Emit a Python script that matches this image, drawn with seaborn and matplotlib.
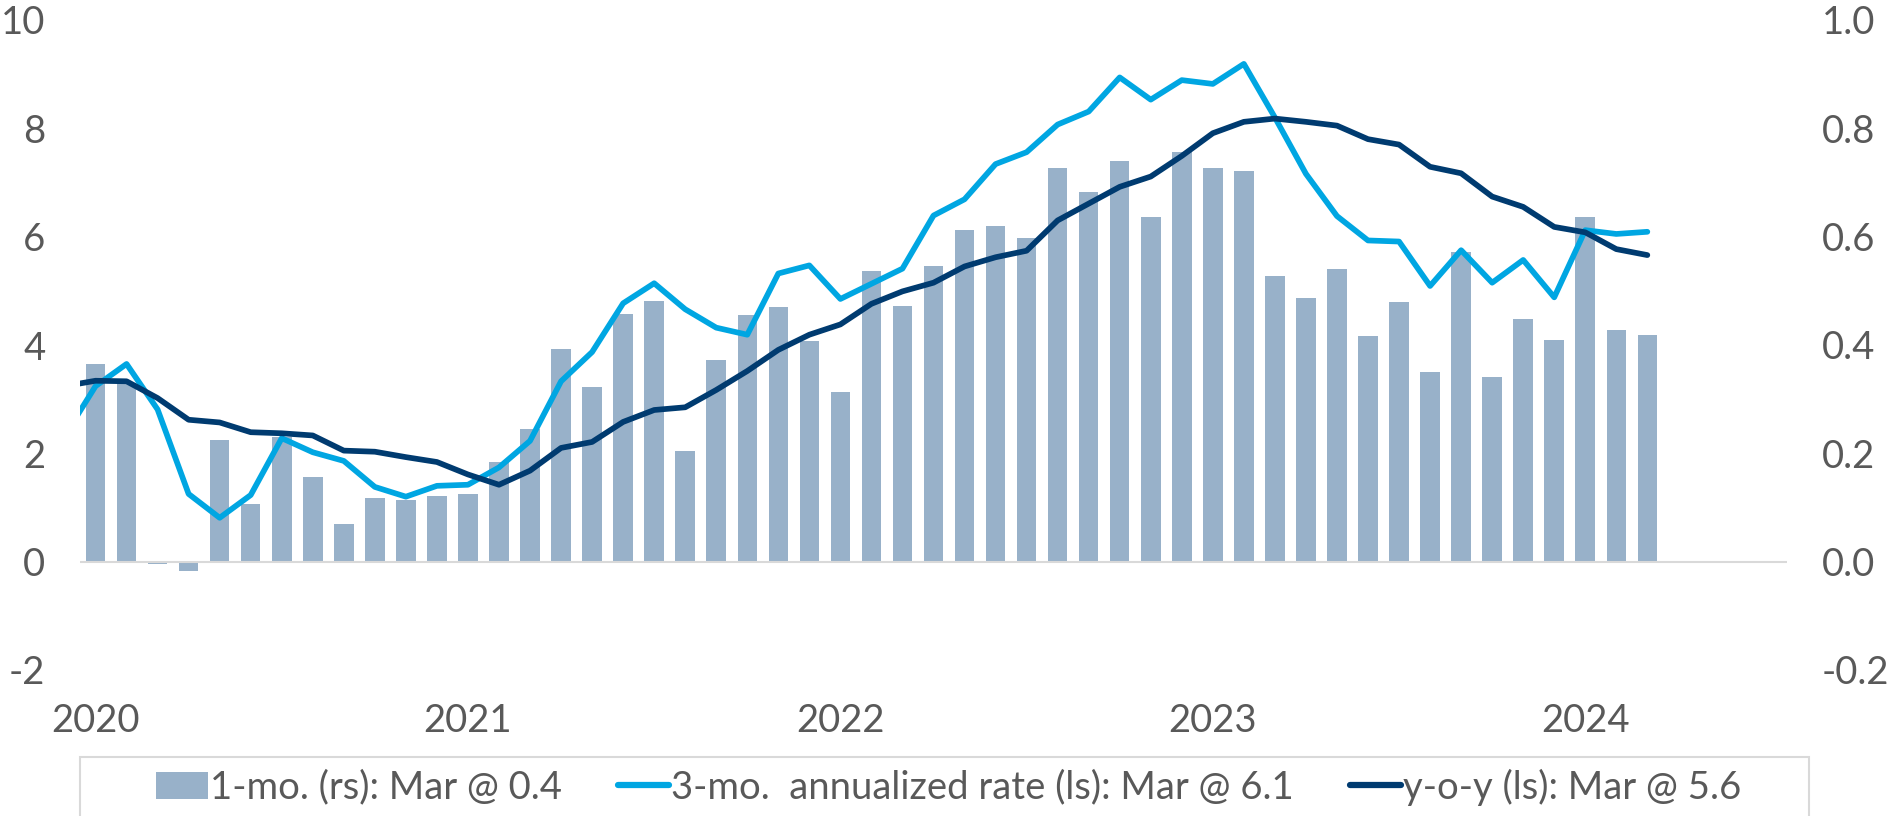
import numpy as np
import pandas as pd
import matplotlib
matplotlib.use("Agg")
import matplotlib.pyplot as plt
from matplotlib.patches import Patch, Rectangle
from matplotlib.lines import Line2D
import seaborn as sns

# x axis: one slot per month, Jan 2020 = 0
year_labels = ["2020", "2021", "2022", "2023", "2024"]
year_ticks = [0, 12, 24, 36, 48]

# 1-month change (right scale), Jan 2020 - Mar 2024
one_month = [
    0.365, 0.33, -0.004, -0.018, 0.224, 0.106, 0.23, 0.157, 0.069, 0.118, 0.113, 0.121,
    0.124, 0.184, 0.244, 0.392, 0.322, 0.457, 0.481, 0.205, 0.373, 0.456, 0.471, 0.407,
    0.314, 0.536, 0.472, 0.545, 0.613, 0.620, 0.597, 0.727, 0.682, 0.740, 0.637, 0.756,
    0.727, 0.722, 0.528, 0.486, 0.541, 0.416, 0.479, 0.350, 0.572, 0.340, 0.448, 0.409,
    0.636, 0.428, 0.419,
]

# lines (left scale), Dec 2019 - Mar 2024; Dec 2019 gets clipped at the left edge
three_month_ann = [
    2.32,
    3.24, 3.65, 2.81, 1.25, 0.81, 1.23, 2.28, 2.02, 1.86, 1.38, 1.20, 1.40,
    1.42, 1.74, 2.23, 3.33, 3.87, 4.77, 5.14, 4.66, 4.32, 4.19, 5.32, 5.47,
    4.85, 5.13, 5.41, 6.39, 6.69, 7.34, 7.56, 8.07, 8.31, 8.94, 8.53, 8.89,
    8.82, 9.19, 8.20, 7.16, 6.38, 5.93, 5.91, 5.09, 5.75, 5.15, 5.57, 4.88,
    6.12, 6.05, 6.09,
]
yoy = [
    3.24,
    3.34, 3.33, 3.02, 2.62, 2.57, 2.39, 2.37, 2.33, 2.05, 2.03, 1.93, 1.84,
    1.61, 1.42, 1.68, 2.10, 2.21, 2.58, 2.80, 2.85, 3.17, 3.52, 3.91, 4.19,
    4.38, 4.76, 4.99, 5.15, 5.45, 5.62, 5.74, 6.30, 6.61, 6.92, 7.11, 7.49,
    7.91, 8.12, 8.18, 8.12, 8.05, 7.80, 7.70, 7.29, 7.17, 6.74, 6.55, 6.18,
    6.08, 5.77, 5.66,
]

left_ticks = [-2, 0, 2, 4, 6, 8, 10]
right_ticks = [-0.2, 0.0, 0.2, 0.4, 0.6, 0.8, 1.0]

legend_labels = [
    "1-mo. (rs): Mar @ 0.4",
    "3-mo.  annualized rate (ls): Mar @ 6.1",
    "y-o-y (ls): Mar @ 5.6",
]

BAR = "#98B1C9"
LIGHT = "#00A6E2"
NAVY = "#003B70"
GRID = "#D9D9D9"
TXT = "#595959"
FS = 27.5

sns.set_theme(style="white")
plt.rcParams["font.family"] = ["Lato", "DejaVu Sans"]
plt.rcParams["axes.unicode_minus"] = False

bars_df = pd.DataFrame({"month": np.arange(len(one_month)), "value": one_month})
lines_df = pd.DataFrame({
    "month": np.arange(-1, len(one_month)),
    "three": three_month_ann,
    "yoy": yoy,
})

W, H = 1887, 816
fig = plt.figure(figsize=(W / 100, H / 100), dpi=100)
ax = fig.add_axes([80 / W, 1 - 670 / H, (1787 - 80) / W, (670 - 20) / H])

# bars on the base axes (right-hand scale), lines on the twin so they sit on top
sns.barplot(data=bars_df, x="month", y="value", native_scale=True, width=0.63,
            color=BAR, saturation=1, linewidth=0, errorbar=None, ax=ax)
ax.axhline(0, color=GRID, lw=1.5, zorder=3)
ax.set_xlim(-0.5, 54.5)
ax.set_ylim(-0.2, 1.0)
ax.set_xticks(year_ticks, year_labels)
ax.set_xlabel("")
ax.set_ylabel("")

ax2 = ax.twinx()
sns.lineplot(data=lines_df, x="month", y="three", color=LIGHT, linewidth=4.1,
             solid_capstyle="round", solid_joinstyle="round", ax=ax2)
sns.lineplot(data=lines_df, x="month", y="yoy", color=NAVY, linewidth=4.1,
             solid_capstyle="round", solid_joinstyle="round", ax=ax2)
ax2.set_xlim(-0.5, 54.5)
ax2.set_ylim(-2, 10)
ax2.set_xlabel("")
ax2.set_ylabel("")

# swap sides: bar scale on the right, line scale on the left
ax.yaxis.tick_right()
ax.set_yticks(right_ticks, [f"{t:.1f}" for t in right_ticks])
ax2.yaxis.tick_left()
ax2.set_yticks(left_ticks, [str(t) for t in left_ticks])

for a in (ax, ax2):
    for s in a.spines.values():
        s.set_visible(False)
    a.grid(False)
ax.tick_params(axis="x", length=0, pad=23.5, labelsize=FS, labelcolor=TXT)
ax.tick_params(axis="y", length=0, pad=25, labelsize=FS, labelcolor=TXT)
ax2.tick_params(axis="y", length=0, pad=25, labelsize=FS, labelcolor=TXT)

# legend box, open at the bottom edge of the image
fig.add_artist(Rectangle((80 / W, -0.05), (1809 - 80) / W, (816 - 757) / H + 0.05,
                         transform=fig.transFigure, fill=False, edgecolor=GRID, lw=1.5))
handles = [
    Patch(facecolor=BAR, edgecolor="none"),
    Line2D([0], [0], color=LIGHT, lw=4.5, solid_capstyle="round"),
    Line2D([0], [0], color=NAVY, lw=4.5, solid_capstyle="round"),
]
fig.legend(handles, legend_labels, loc="center", bbox_to_anchor=(949 / W, 1 - 787 / H),
           ncol=3, frameon=False, fontsize=FS, labelcolor=TXT, handlelength=1.35,
           handletextpad=0.06, columnspacing=1.45)

fig.savefig("out.png", dpi=100)
